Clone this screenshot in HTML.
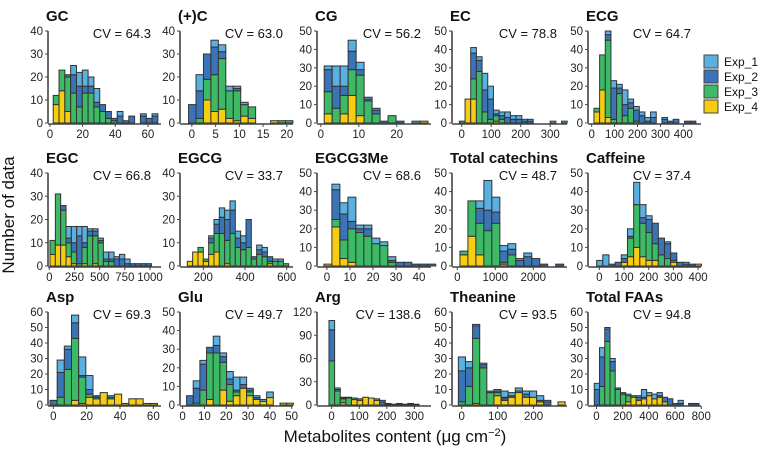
<!DOCTYPE html>
<html><head><meta charset="utf-8">
<style>
html,body{margin:0;padding:0;background:#fff;}
svg{display:block;font-family:"Liberation Sans",Arial,sans-serif;}
</style></head>
<body>
<svg id="chart" width="766" height="450" viewBox="0 0 766 450" xmlns="http://www.w3.org/2000/svg">
  <text x="0" y="0" transform="translate(14,215) rotate(-90)" text-anchor="middle" font-size="17" fill="#111">Number of data</text>
  <text x="395" y="442" text-anchor="middle" font-size="17" fill="#111">Metabolites content (μg cm<tspan dy="-6" font-size="11">−2</tspan><tspan dy="6">)</tspan></text>
  <g>
    <rect x="704" y="55" width="14" height="13" fill="#5ab0e0" stroke="#444" stroke-width="1"/>
    <text x="724" y="66" font-size="12" fill="#111">Exp_1</text>
    <rect x="704" y="70" width="14" height="13" fill="#3a74b7" stroke="#444" stroke-width="1"/>
    <text x="724" y="81" font-size="12" fill="#111">Exp_2</text>
    <rect x="704" y="85" width="14" height="13" fill="#3dba66" stroke="#444" stroke-width="1"/>
    <text x="724" y="96" font-size="12" fill="#111">Exp_3</text>
    <rect x="704" y="100" width="14" height="13" fill="#f7cd12" stroke="#444" stroke-width="1"/>
    <text x="724" y="111" font-size="12" fill="#111">Exp_4</text>
  </g>
</svg>
<script>
// ---- data: per-bin counts for each experiment (Exp_4 bottom ... Exp_1 top) ----
const GC_exp4=[8,14,5,0,0,0,0,0,0,0,0,0,0,0,0,0,0,0];
const GC_exp3=[4,9,15,13,7,13,13,7,5,2,1,0,0,0,0,0,0,0];
const GC_exp2=[0,0,1,8,9,3,3,2,3,3,1,3,1,3,0,3,2,3];
const GC_exp1=[0,0,0,4,6,7,4,6,0,0,0,2,0,0,0,1,0,1];

const C_exp4=[0,0,10,5,6,2,1,3,2,0,0,1,0,0];
const C_exp3=[0,2,9,16,22,12,13,5,5,0,0,0,1,1];
const C_exp2=[8,12,11,12,3,0,1,0,0,0,0,0,0,0];
const C_exp1=[0,7,0,3,3,2,1,1,0,0,0,0,0,0];

const CG_exp4=[5,0,5,15,4,0,0,0,0,0,0,0,1];
const CG_exp3=[12,8,10,14,22,12,5,0,4,0,0,0,0];
const CG_exp2=[12,12,5,10,3,1,2,1,0,1,0,0,0];
const CG_exp1=[2,11,11,6,4,1,1,0,0,0,0,1,0];

const EC_exp4=[0,13,13,0,0,0,1,0,0,0,0,0,0,0,0,0,0,0,0];
const EC_exp3=[1,0,11,28,6,2,3,2,0,0,0,0,0,0,0,0,0,0,0];
const EC_exp2=[0,0,14,6,12,11,1,2,3,2,2,1,1,0,0,0,0,0,0];
const EC_exp1=[0,0,3,2,9,7,2,2,3,2,2,1,1,0,0,0,1,0,1];

const ECG_exp4=[6,18,3,0,0,0,0,0,0,0,0,0,0,0,0,0,0,0];
const ECG_exp3=[2,19,42,2,16,4,8,1,0,0,0,0,0,0,0,0,0,0];
const ECG_exp2=[0,0,3,17,3,6,3,6,4,1,3,0,2,1,2,0,1,1];
const ECG_exp1=[0,0,2,4,2,8,2,2,2,2,3,0,1,0,0,0,0,0];

const EGC_exp4=[5,9,9,4,1,0,1,0,1,0,0,0,0,0,0,0,0,0,0];
const EGC_exp3=[6,22,15,6,5,1,7,13,12,10,2,2,0,0,0,0,0,0,0];
const EGC_exp2=[0,0,2,2,4,12,2,2,2,1,1,1,3,3,1,1,1,1,1];
const EGC_exp1=[0,0,0,5,7,4,7,1,1,1,3,3,1,2,2,0,0,0,0];

const EGCG_exp4=[2,6,6,2,5,6,0,1,0,0,0,0,0,0,0,1,0,0,0];
const EGCG_exp3=[0,0,2,1,5,8,14,10,14,8,7,8,3,5,4,1,2,2,1];
const EGCG_exp2=[0,0,0,0,2,4,7,9,10,4,3,12,1,2,2,2,0,0,0];
const EGCG_exp1=[0,0,0,0,1,2,4,4,4,3,3,0,0,2,2,0,1,1,0];

const ME_exp4=[1,21,4,2,0,0,0,0,0,0,0,0,0,0];
const ME_exp3=[0,4,10,18,18,16,12,11,2,0,0,0,0,0];
const ME_exp2=[0,16,14,4,2,4,0,0,1,2,2,1,1,1];
const ME_exp1=[0,3,6,13,2,2,3,2,2,0,0,0,0,0];

const TC_exp4=[6,16,6,0,0,1,0,0,0,0,0,0,0];
const TC_exp3=[2,19,17,19,23,1,6,0,0,0,0,0,0];
const TC_exp2=[0,0,8,11,6,6,3,3,5,4,1,0,1];
const TC_exp1=[0,0,4,16,8,3,3,1,2,0,0,0,0];

const CAF_exp4=[0,0,0,0,2,5,10,5,3,3,0,0,2,0,0,0,1];
const CAF_exp3=[0,0,0,0,0,10,23,18,15,9,6,4,1,0,0,0,0];
const CAF_exp2=[0,0,1,2,2,1,0,3,7,11,9,8,4,2,1,1,0];
const CAF_exp1=[3,6,0,0,2,4,12,7,2,0,0,1,0,0,1,0,0];

const ASP_exp4=[0,0,0,3,1,5,4,8,4,7,1,4,4,1,1];
const ASP_exp3=[0,5,23,40,17,2,1,0,1,0,0,0,0,0,0];
const ASP_exp2=[3,16,13,10,1,3,1,0,0,0,0,0,0,0,0];
const ASP_exp1=[0,8,2,5,12,9,0,0,1,0,0,0,0,0,0];

const GLU_exp4=[0,0,0,3,0,8,2,5,9,5,3,2,4,0,1,1];
const GLU_exp3=[0,1,8,25,28,15,9,2,0,2,0,0,0,0,0,0];
const GLU_exp2=[5,8,14,3,4,3,3,1,2,1,1,0,0,0,0,0];
const GLU_exp1=[0,4,2,0,5,2,4,7,4,1,1,1,3,0,0,0];

const ARG_exp4=[0,0,3,0,7,6,10,9,6,0,0,0,0,0,0,0];
const ARG_exp3=[57,18,5,9,2,2,0,0,0,0,0,0,0,0,0,0];
const ARG_exp2=[40,2,1,0,0,0,0,0,0,4,1,1,1,0,1,0];
const ARG_exp1=[12,2,1,1,0,0,0,0,2,2,1,0,1,1,1,1];

const THE_exp4=[0,0,1,0,0,6,3,5,8,5,5,2,0,0,2];
const THE_exp3=[2,12,42,24,8,2,1,0,1,0,0,0,0,0,0];
const THE_exp2=[20,12,8,2,1,1,1,1,0,2,0,1,2,0,0];
const THE_exp1=[9,4,1,1,0,1,4,2,2,2,4,3,1,0,0];

const FAA_exp4=[0,0,0,0,0,0,2,5,3,4,6,4,5,2,0,0,0,0,0,0];
const FAA_exp3=[0,12,41,22,10,7,4,1,0,0,0,0,0,0,0,0,0,0,0,0];
const FAA_exp2=[10,19,8,6,1,1,0,0,2,1,0,0,1,3,4,1,1,0,1,1];
const FAA_exp1=[4,6,1,2,0,0,1,0,1,5,2,3,2,0,0,0,2,0,0,0];

const panelTitles=["GC","(+)C","CG","EC","ECG","EGC","EGCG","EGCG3Me","Total catechins","Caffeine","Asp","Glu","Arg","Theanine","Total FAAs"];
const cvValues=["64.3","63.0","56.2","78.8","64.7","66.8","33.7","68.6","48.7","37.4","69.3","49.7","138.6","93.5","94.8"];
const binStarts=[2,-0.7,0.9,-8,10,7,123,-1.3,70,-11,-2,1.8,-9.6,-9.3,-17];
const binWidths=[3.56,1.57,2.1,19.25,24.7,53,25.6,3.47,210,25,4.3,3.06,20.4,19.8,40];
const xTicks=[[0,20,40,60],[0,5,10,15,20],[0,10,20],[0,100,200,300],[0,100,200,300,400],
 [0,250,500,750,1000],[200,400,600],[0,10,20,30,40],[0,1000,2000],[0,100,200,300,400],
 [0,20,40,60],[0,10,20,30,40,50],[0,100,200,300],[0,100,200],[0,200,400,600,800]];
const yMaxes=[40,40,50,50,50,40,40,50,50,50,60,50,120,60,60];
const yStep=[10,10,10,10,10,10,10,10,10,10,10,10,30,10,10];
const xDomains=[[-1.2,68],[-2.5,21.3],[-1,29],[-33,357],[-16,477],[-13,1109],[88,630],[-4.3,45.2],[-139,2887],[-46,412],[-3.2,64.6],[-1.2,50.6],[-53,360],[-27,293],[-65,798]];
const seriesSets=[
 [GC_exp4,GC_exp3,GC_exp2,GC_exp1],[C_exp4,C_exp3,C_exp2,C_exp1],[CG_exp4,CG_exp3,CG_exp2,CG_exp1],
 [EC_exp4,EC_exp3,EC_exp2,EC_exp1],[ECG_exp4,ECG_exp3,ECG_exp2,ECG_exp1],[EGC_exp4,EGC_exp3,EGC_exp2,EGC_exp1],
 [EGCG_exp4,EGCG_exp3,EGCG_exp2,EGCG_exp1],[ME_exp4,ME_exp3,ME_exp2,ME_exp1],[TC_exp4,TC_exp3,TC_exp2,TC_exp1],
 [CAF_exp4,CAF_exp3,CAF_exp2,CAF_exp1],[ASP_exp4,ASP_exp3,ASP_exp2,ASP_exp1],[GLU_exp4,GLU_exp3,GLU_exp2,GLU_exp1],
 [ARG_exp4,ARG_exp3,ARG_exp2,ARG_exp1],[THE_exp4,THE_exp3,THE_exp2,THE_exp1],[FAA_exp4,FAA_exp3,FAA_exp2,FAA_exp1]];

// ---- layout ----
const colX0=[48,180,317,452,588], colX1=[161,293,431,567,701];
const rowTop=[31,173,312], rowBot=[123,266,405];
const colors=["#f7cd12","#3dba66","#3a74b7","#5ab0e0"];
const seriesNames=["exp4","exp3","exp2","exp1"];
const NS="http://www.w3.org/2000/svg";
const svg=document.getElementById("chart");
function mk(tag,attrs,parent){const e=document.createElementNS(NS,tag);for(const k in attrs)e.setAttribute(k,attrs[k]);parent.appendChild(e);return e;}
function slug(s){return s.toLowerCase().replace(/[^a-z0-9]+/g,'-').replace(/^-|-$/g,'');}

panelTitles.forEach((title,p)=>{
  const r=Math.floor(p/5), c=p%5;
  const x0=colX0[c], x1=colX1[c], yT=rowTop[r], yB=rowBot[r];
  const d=xDomains[p];
  const sx=v=>x0+(v-d[0])/(d[1]-d[0])*(x1-x0);
  const sy=v=>yB-v/yMaxes[p]*(yB-yT);
  const g=mk("g",{},svg);
  
  
  const t=mk("text",{x:x0-2,y:yT-10,"font-size":"15","font-weight":"bold",fill:"#111"},g);
  t.textContent=title;
  
  
  const cv=mk("text",{x:x1-10,y:yT+7,"text-anchor":"end","font-size":"13",fill:"#111"},g);
  cv.textContent="CV = "+cvValues[p];
  
  
  const sets=seriesSets[p];
  const n=sets[0].length;
  for(let i=0;i<n;i++){
    let cum=0;
    const bx0=sx(binStarts[p]+i*binWidths[p]), bx1=sx(binStarts[p]+(i+1)*binWidths[p]);
    for(let s=0;s<4;s++){
      const v=sets[s][i];
      if(v<=0) continue;
      const ya=sy(cum+v), yb=sy(cum);
      const rc=mk("rect",{x:bx0,y:ya,width:bx1-bx0,height:yb-ya,fill:colors[s],stroke:"#333","stroke-width":"1"},g);
      
      
      cum+=v;
    }
  }
  const ya=mk("line",{x1:x0,y1:yT,x2:x0,y2:yB,stroke:"#444","stroke-width":"1.6"},g);
  
  
  const xa=mk("line",{x1:x0,y1:yB+1,x2:x1,y2:yB+1,stroke:"#444","stroke-width":"1.6"},g);
  
  
  for(let v=0;v<=yMaxes[p];v+=yStep[p]){
    const y=sy(v);
    mk("line",{x1:x0-3,y1:y,x2:x0,y2:y,stroke:"#444","stroke-width":"1"},g);
    const tl=mk("text",{x:x0-5,y:y+4,"text-anchor":"end","font-size":"11.5",fill:"#222"},g);
    tl.textContent=v;
    
    
  }
  xTicks[p].forEach(v=>{
    const x=sx(v);
    mk("line",{x1:x,y1:yB+1,x2:x,y2:yB+4,stroke:"#444","stroke-width":"1"},g);
    const tl=mk("text",{x:x,y:yB+15,"text-anchor":"middle","font-size":"11.5",fill:"#222"},g);
    tl.textContent=v;
    
    
  });
});
</script>
</body></html>
